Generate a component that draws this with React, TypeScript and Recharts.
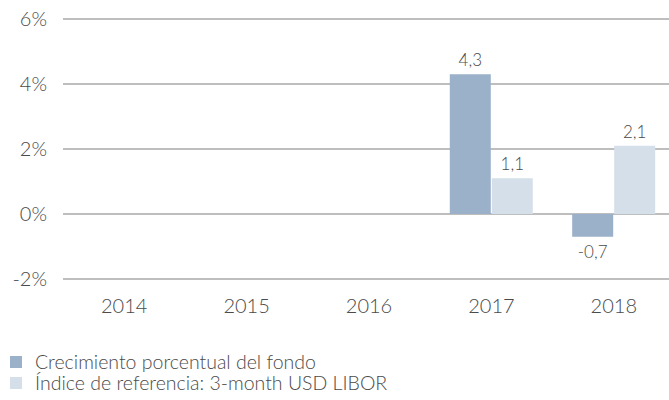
import React from "react";
import { BarChart, Bar, XAxis, YAxis, CartesianGrid, Legend, LabelList } from "recharts";

const years = ["2014", "2015", "2016", "2017", "2018"];
const fondo: (number | null)[] = [null, null, null, 4.3, -0.7];
const libor: (number | null)[] = [null, null, null, 1.1, 2.1];
const yTicks = [-2, 0, 2, 4, 6];
const seriesNames = ["Crecimiento porcentual del fondo", "Índice de referencia: 3-month USD LIBOR"];
const colors = ["#9bb0c9", "#d5dfea"];

const data = years.map((y, i) => ({ year: y, fondo: fondo[i], libor: libor[i] }));

const FONT = "Lato, 'Open Sans', sans-serif";
const TEXT = "#4a4a4a";

const ValueLabel = (props: any) => {
  const { x, y, width, height, value } = props;
  if (value === null || value === undefined) return null;
  const top = Math.min(y, y + height);
  const bottom = Math.max(y, y + height);
  const cx = x + width / 2;
  const txt = String(value).replace(".", ",");
  if (value >= 0) {
    return (
      <text x={cx} y={top - 8} textAnchor="middle" fontSize={17} fontWeight={300} fill={TEXT} fontFamily={FONT}>
        {txt}
      </text>
    );
  }
  return (
    <text x={cx} y={bottom + 21} textAnchor="middle" fontSize={17} fontWeight={300} fill={TEXT} fontFamily={FONT}>
      {txt}
    </text>
  );
};

const LegendContent = () => (
  <div style={{ fontFamily: FONT, fontSize: 19.5, fontWeight: 300, color: TEXT }}>
    {seriesNames.map((n, i) => (
      <div key={n} style={{ display: "flex", alignItems: "center", height: 21.5 }}>
        <span style={{ display: "block", width: 12, height: 12, background: colors[i], marginLeft: 10, marginRight: 13, flex: "none" }} />
        <span style={{ display: "block", height: 20, lineHeight: "20px", whiteSpace: "nowrap" }}>{n}</span>
      </div>
    ))}
  </div>
);

export default function App() {
  return (
    <div style={{ position: "absolute", left: 0, top: 0, width: 669, height: 400, overflow: "hidden", background: "#fff" }}>
      <BarChart
        width={677}
        height={400}
        data={data}
        margin={{ top: 19, right: 2, left: 0, bottom: 91 }}
        barCategoryGap="16%"
        barGap={1}
      >
        <CartesianGrid vertical={false} stroke="#a8a8a8" strokeWidth={1.5} />
        <XAxis
          dataKey="year"
          axisLine={false}
          tickLine={false}
          tickMargin={14}
          tick={{ fontSize: 20, fontWeight: 300, fill: TEXT, fontFamily: FONT }}
          height={30}
        />
        <YAxis
          width={63}
          domain={[-2, 6]}
          ticks={yTicks}
          axisLine={false}
          tickLine={false}
          tickMargin={10}
          tickFormatter={(v: number) => `${v}%`}
          tick={{ fontSize: 20, fontWeight: 300, fill: TEXT, fontFamily: FONT }}
        />
        <Legend
          layout="vertical"
          align="center"
          verticalAlign="middle"
          content={<LegendContent />}
          wrapperStyle={{ left: 0, top: 351, width: 450, height: 45 }}
        />
        <Bar dataKey="fondo" name={seriesNames[0]} fill={colors[0]} isAnimationActive={false}>
          <LabelList dataKey="fondo" content={<ValueLabel />} />
        </Bar>
        <Bar dataKey="libor" name={seriesNames[1]} fill={colors[1]} isAnimationActive={false}>
          <LabelList dataKey="libor" content={<ValueLabel />} />
        </Bar>
      </BarChart>
    </div>
  );
}
